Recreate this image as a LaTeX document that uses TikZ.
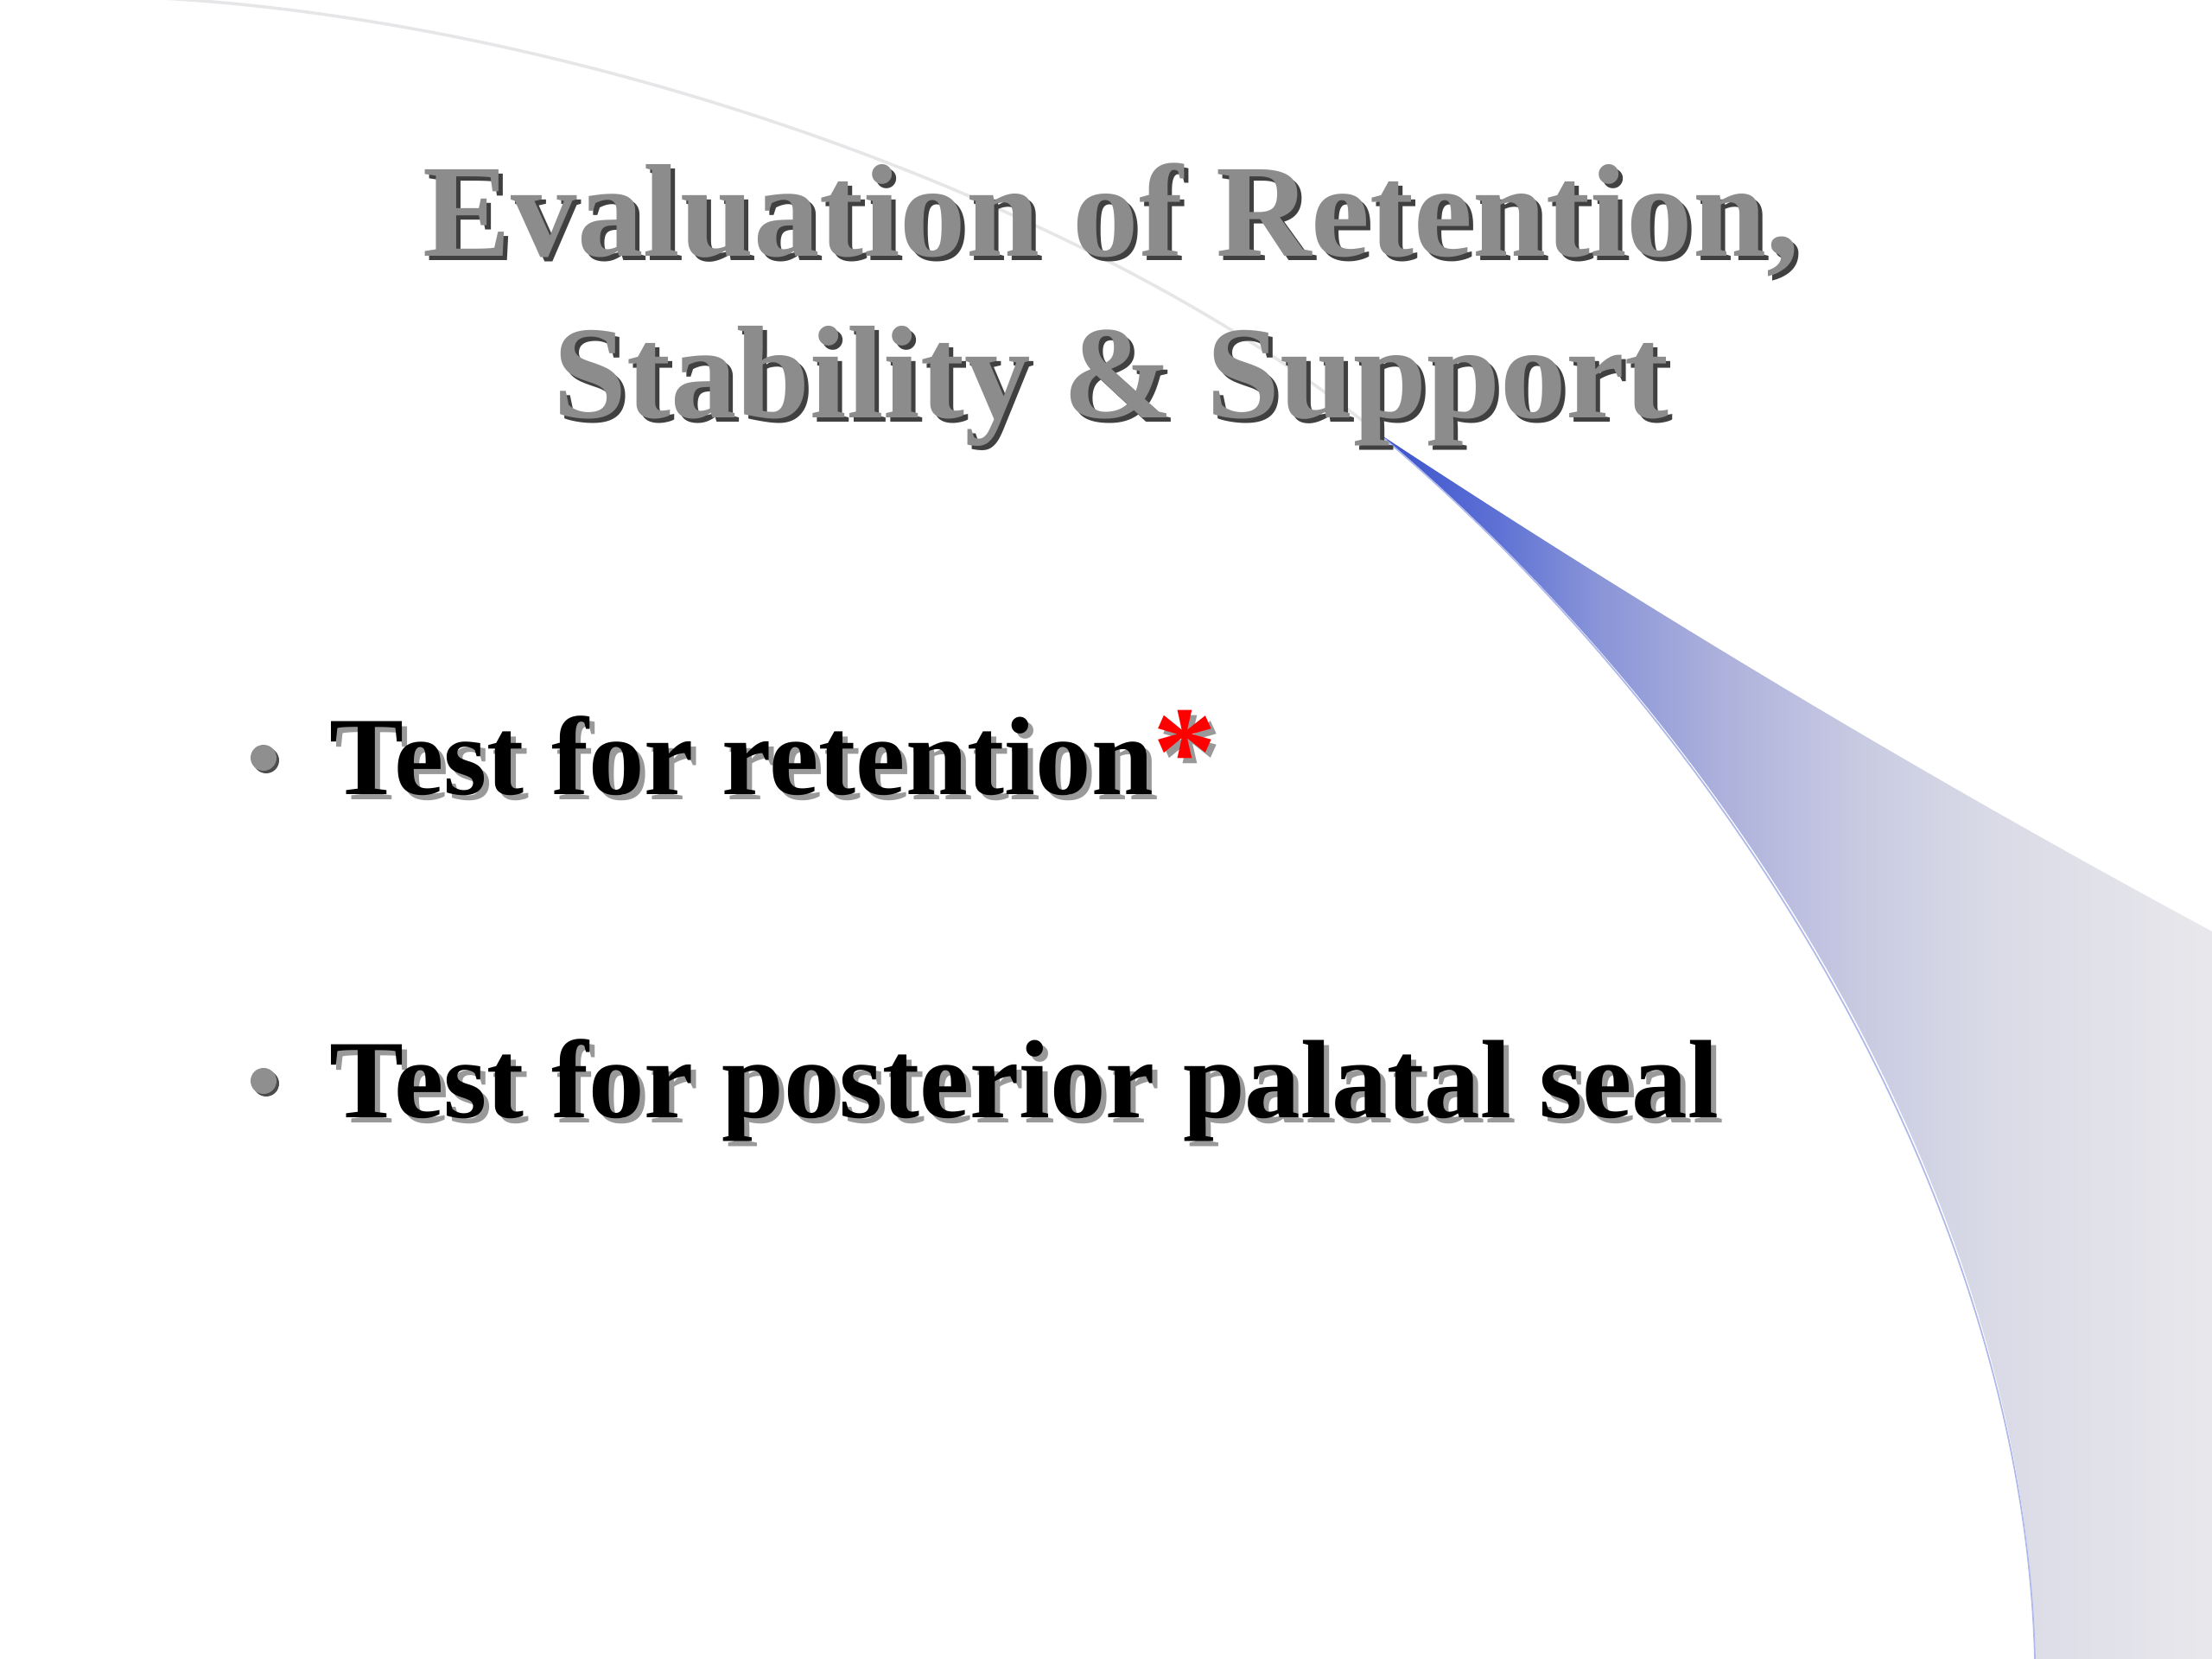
\documentclass[tikz,border=0pt]{standalone}
\usepackage{fontspec}
\setmainfont{Liberation Serif}
\usepackage{tikz}

\definecolor{titlegray}{RGB}{140,140,140}
\definecolor{dotgray}{RGB}{143,143,143}
\definecolor{arcgray}{RGB}{230,230,232}
\definecolor{edgeblue}{RGB}{175,185,235}
\definecolor{swA}{RGB}{58,82,204}
\definecolor{swB}{RGB}{90,110,212}
\definecolor{swC}{RGB}{138,149,216}
\definecolor{swD}{RGB}{174,178,220}
\definecolor{swE}{RGB}{200,202,226}
\definecolor{swF}{RGB}{217,218,230}
\definecolor{swG}{RGB}{232,232,236}

% Verlauf des Bogens: blau an der Spitze, grau am rechten Rand
\pgfdeclarehorizontalshading{swoosh}{100bp}{color(0bp)=(swA); color(25bp)=(swA);
  color(31.6bp)=(swB); color(38.3bp)=(swC); color(46bp)=(swD);
  color(53.8bp)=(swE); color(61.6bp)=(swF); color(75bp)=(swG); color(100bp)=(swG)}

\begin{document}
\begin{tikzpicture}[
    titletext/.style={font=\fontsize{43.5}{52}\selectfont\bfseries, text=titlegray, inner sep=0pt, anchor=base},
    titleshadow/.style={titletext, text=black!75},
    itemtext/.style={font=\fontsize{36.7}{44}\selectfont\bfseries, text=black, inner sep=0pt, anchor=base west},
    itemshadow/.style={itemtext, text=black!40},
    bulletdot/.style={circle, fill=dotgray, minimum size=0.3cm, inner sep=0pt},
    bulletshadow/.style={bulletdot, fill=black!70},
  ]

  % Seitenformat
  \useasboundingbox (0,0) rectangle (25.6,19.2);
  \fill[white] (0,0) rectangle (25.6,19.2);

  % Bogen rechts mit Verlauf
  \coordinate (tip) at (15.93,14.2);
  \coordinate (edgetop) at (25.6,8.42);
  \coordinate (edgebot) at (25.6,0);
  \coordinate (foot) at (23.55,0);
  \coordinate (arcend) at (1.0,19.25);
  \shade[shading=swoosh] (tip) .. controls (19.15,12.08) and (22.37,10.16) .. (edgetop)
    -- (edgebot) -- (foot) .. controls (23.45,5.5) and (19.8,11.0) .. (tip) -- cycle;
  \draw[edgeblue, line width=0.5pt, xshift=-0.04cm] (foot) .. controls (23.45,5.5) and (19.8,11.0) .. (tip);
  \draw[arcgray, line width=1pt] (tip) .. controls (12.5,17.0) and (6.0,19.2) .. (arcend);

  % Titel
  \node[titleshadow] (titleAsh) at (12.91,16.18) {Evaluation of Retention,};
  \node[titletext] (titleA) at (12.86,16.23) {Evaluation of Retention,};
  \node[titleshadow] (titleBsh) at (12.91,14.31) {Stability \& Support};
  \node[titletext] (titleB) at (12.86,14.36) {Stability \& Support};

  % Aufzaehlung
  \node[bulletshadow] (dotAsh) at (3.08,10.40) {};
  \node[bulletdot] (dotA) at (3.05,10.43) {};
  \node[itemshadow] (itemAsh) at (3.87,9.94) {Test for retention{\fontsize{42}{44}\selectfont*}};
  \node[itemtext] (itemA) at (3.81,10.0) {Test for retention{\fontsize{42}{44}\selectfont\color{red}*}};

  \node[bulletshadow] (dotBsh) at (3.08,6.66) {};
  \node[bulletdot] (dotB) at (3.05,6.69) {};
  \node[itemshadow] (itemBsh) at (3.87,6.20) {Test for posterior palatal seal};
  \node[itemtext] (itemB) at (3.81,6.26) {Test for posterior palatal seal};

\end{tikzpicture}
\end{document}
